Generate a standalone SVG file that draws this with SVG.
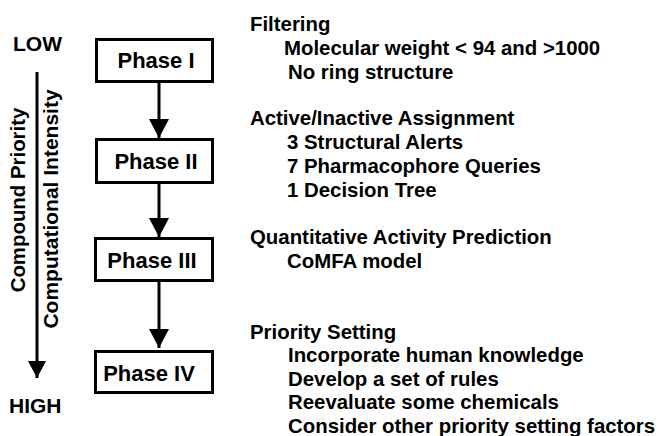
<svg xmlns="http://www.w3.org/2000/svg" width="658" height="436" viewBox="0 0 658 436">
<defs>
<marker id="ah" markerUnits="userSpaceOnUse" markerWidth="20" markerHeight="20" refX="19" refY="10" orient="auto">
<path d="M0,0 L19,10 L0,20 Z" fill="#000"/>
</marker>
<marker id="ah2" markerUnits="userSpaceOnUse" markerWidth="18" markerHeight="18" refX="17" refY="9" orient="auto">
<path d="M0,0 L17,9 L0,18 Z" fill="#000"/>
</marker>
</defs>
<style>
text{font-family:"Liberation Sans",Arial,sans-serif;font-weight:bold;font-size:20.4px;fill:#000}
.box{fill:#fff;stroke:#000;stroke-width:3}
.c{stroke:#000;stroke-width:3;fill:none}
.big{font-size:21px}
.ph{font-size:22px}
</style>
<rect width="658" height="436" fill="#fff"/>
<g id="connectors">
<line class="c" x1="159" y1="82" x2="159" y2="138" marker-end="url(#ah)"/>
<line class="c" x1="159" y1="183" x2="159" y2="237" marker-end="url(#ah)"/>
<line class="c" x1="159" y1="281" x2="159" y2="348" marker-end="url(#ah)"/>
<line class="c" x1="37" y1="72" x2="37" y2="378" marker-end="url(#ah2)"/>
</g>
<g id="phase1"><rect class="box" x="96.5" y="39.5" width="116" height="42"/><text class="ph" x="156" y="68" text-anchor="middle">Phase I</text></g>
<g id="phase2"><rect class="box" x="96.5" y="139.5" width="116" height="43"/><text class="ph" x="156" y="169" text-anchor="middle">Phase II</text></g>
<g id="phase3"><rect class="box" x="95.5" y="238.5" width="117" height="42"/><text class="ph" x="152" y="268" text-anchor="middle">Phase III</text></g>
<g id="phase4"><rect class="box" x="95.5" y="351.5" width="117" height="41"/><text class="ph" x="149" y="381" text-anchor="middle">Phase IV</text></g>
<g id="axis-labels">
<text class="big" x="13" y="51">LOW</text>
<text class="big" x="9" y="413">HIGH</text>
<text transform="translate(25,200) rotate(-90)" text-anchor="middle">Compound Priority</text>
<text class="big" transform="translate(58,209) rotate(-90)" text-anchor="middle">Computational Intensity</text>
</g>
<g id="descriptions">
<text x="250" y="31">Filtering</text>
<text x="284" y="55">Molecular weight &lt; 94 and &gt;1000</text>
<text x="288" y="79">No ring structure</text>
<text x="250" y="125">Active/Inactive Assignment</text>
<text x="287" y="149">3 Structural Alerts</text>
<text x="287" y="173">7 Pharmacophore Queries</text>
<text x="287" y="197">1 Decision Tree</text>
<text x="250" y="244">Quantitative Activity Prediction</text>
<text x="287" y="268">CoMFA model</text>
<text x="250" y="339">Priority Setting</text>
<text x="288" y="362">Incorporate human knowledge</text>
<text x="288" y="386">Develop a set of rules</text>
<text x="288" y="409">Reevaluate some chemicals</text>
<text x="288" y="433">Consider other priority setting factors</text>
</g>
</svg>
